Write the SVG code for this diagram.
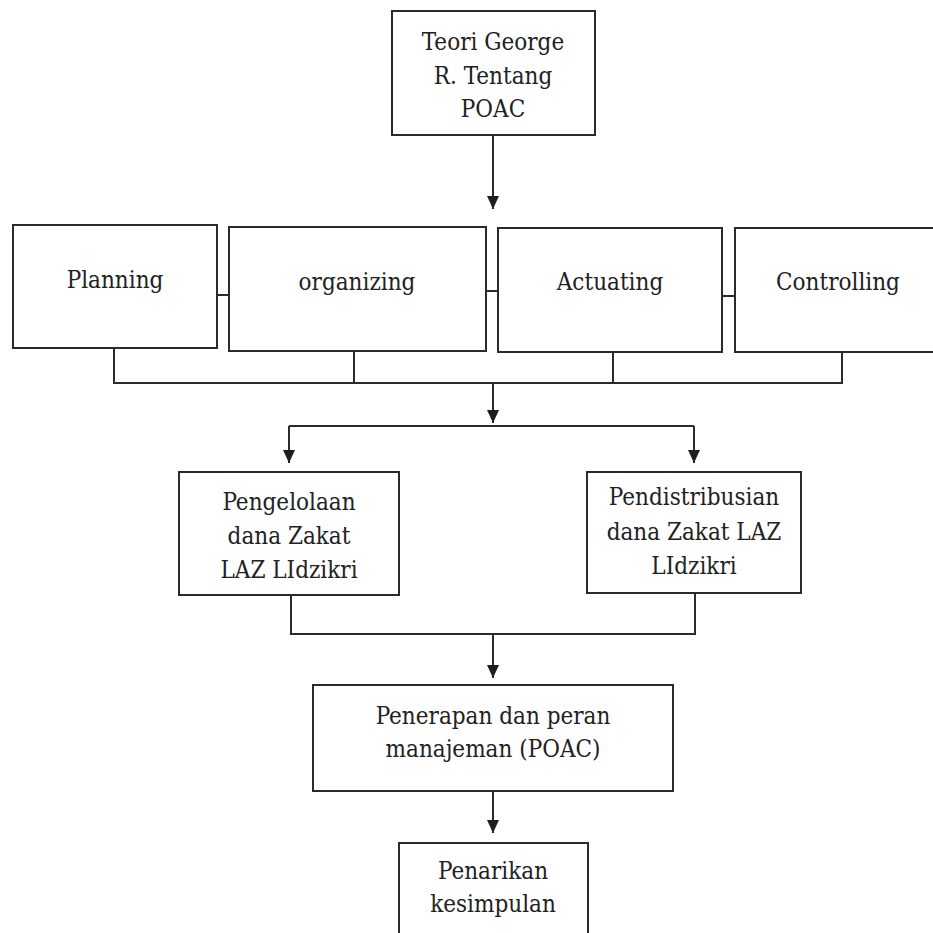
<svg xmlns="http://www.w3.org/2000/svg" width="933" height="933" viewBox="0 0 933 933">
<style>
.box{fill:#fff;stroke:#2b2b2b;stroke-width:2}
.ln{fill:none;stroke:#2b2b2b;stroke-width:2}
.t{font-family:'DejaVu Serif','Liberation Serif',serif;font-stretch:condensed;font-size:24px;fill:#222;text-anchor:middle}
</style>
<defs>
<marker id="ad" markerUnits="userSpaceOnUse" markerWidth="14" markerHeight="14" viewBox="0 0 14 14" refX="7" refY="13" orient="0">
<path d="M1,0 L13,0 L7,13 Z" fill="#1e1e1e"/>
</marker>
</defs>
<rect width="933" height="933" fill="#fff"/>
<g id="connectors">
<line class="ln" x1="493" y1="135" x2="493" y2="209" marker-end="url(#ad)"/>
<line class="ln" x1="217" y1="295" x2="229" y2="295"/>
<line class="ln" x1="486" y1="291" x2="498" y2="291"/>
<line class="ln" x1="722" y1="296" x2="735" y2="296"/>
<polyline class="ln" points="114,348 114,383 842,383 842,352"/>
<line class="ln" x1="354" y1="351" x2="354" y2="383"/>
<line class="ln" x1="613" y1="352" x2="613" y2="383"/>
<line class="ln" x1="493" y1="383" x2="493" y2="423" marker-end="url(#ad)"/>
<line class="ln" x1="289" y1="426" x2="694" y2="426"/>
<line class="ln" x1="289" y1="426" x2="289" y2="463" marker-end="url(#ad)"/>
<line class="ln" x1="694" y1="426" x2="694" y2="463" marker-end="url(#ad)"/>
<polyline class="ln" points="291,595 291,634 695,634 695,593"/>
<line class="ln" x1="493" y1="634" x2="493" y2="678" marker-end="url(#ad)"/>
<line class="ln" x1="493" y1="791" x2="493" y2="833" marker-end="url(#ad)"/>
</g>
<g id="n-teori">
<rect class="box" x="392" y="11" width="203" height="124"/>
<text class="t" x="493" y="50">Teori George</text>
<text class="t" x="493" y="84">R. Tentang</text>
<text class="t" x="493" y="117">POAC</text>
</g>
<g id="n-planning">
<rect class="box" x="13" y="225" width="204" height="123"/>
<text class="t" x="115" y="288">Planning</text>
</g>
<g id="n-organizing">
<rect class="box" x="229" y="227" width="257" height="124"/>
<text class="t" x="357" y="290">organizing</text>
</g>
<g id="n-actuating">
<rect class="box" x="498" y="228" width="224" height="124"/>
<text class="t" x="610" y="290">Actuating</text>
</g>
<g id="n-controlling">
<rect class="box" x="735" y="228" width="206" height="124"/>
<text class="t" x="838" y="290">Controlling</text>
</g>
<g id="n-pengelolaan">
<rect class="box" x="179" y="472" width="220" height="123"/>
<text class="t" x="289" y="510">Pengelolaan</text>
<text class="t" x="289" y="544">dana Zakat</text>
<text class="t" x="289" y="578">LAZ LIdzikri</text>
</g>
<g id="n-pendistribusian">
<rect class="box" x="587" y="472" width="214" height="121"/>
<text class="t" x="694" y="505">Pendistribusian</text>
<text class="t" x="694" y="540">dana Zakat LAZ</text>
<text class="t" x="694" y="574">LIdzikri</text>
</g>
<g id="n-penerapan">
<rect class="box" x="313" y="685" width="360" height="106"/>
<text class="t" x="493" y="724">Penerapan dan peran</text>
<text class="t" x="493" y="757">manajeman (POAC)</text>
</g>
<g id="n-penarikan">
<rect class="box" x="399" y="843" width="189" height="110"/>
<text class="t" x="493" y="879">Penarikan</text>
<text class="t" x="493" y="912">kesimpulan</text>
</g>
</svg>
